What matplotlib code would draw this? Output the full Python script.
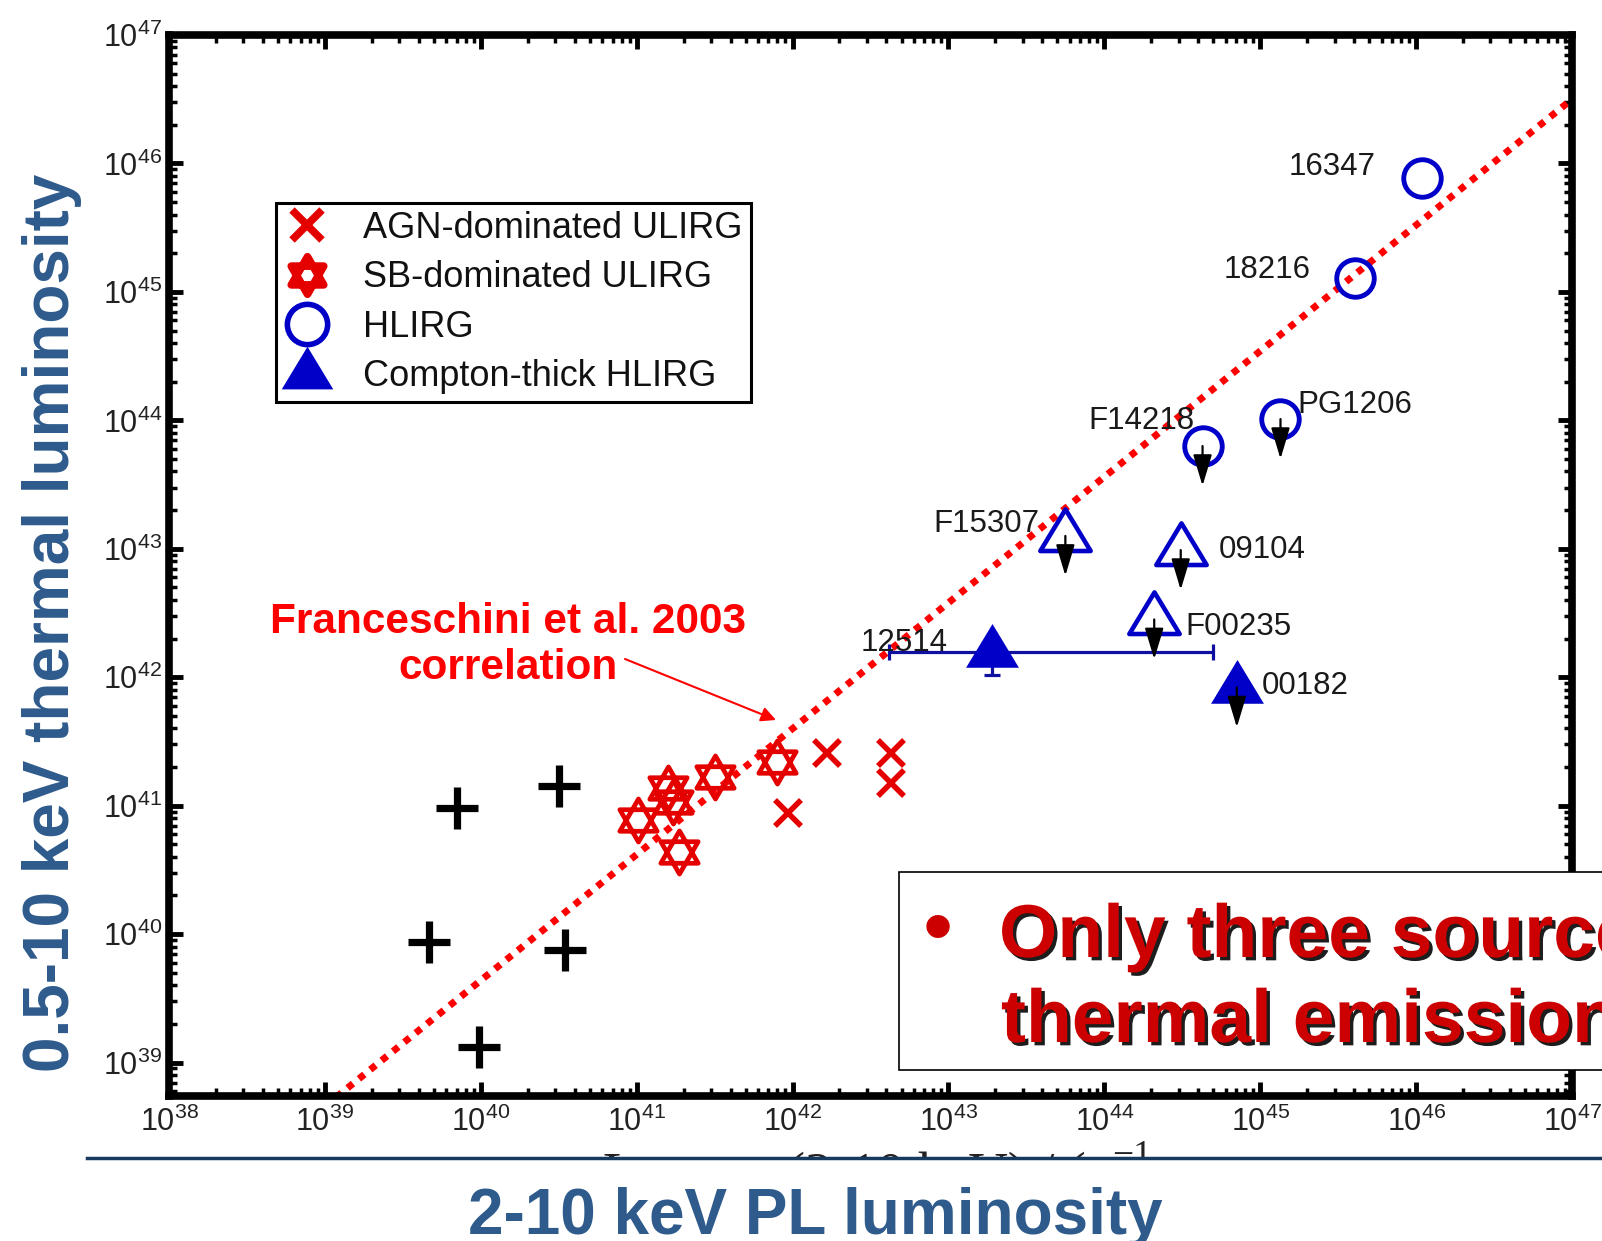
import numpy as np
import matplotlib
matplotlib.use('Agg')
import matplotlib.pyplot as plt
import matplotlib.patheffects as pe
from matplotlib.path import Path
from matplotlib.patches import Rectangle
from matplotlib.lines import Line2D
from matplotlib.ticker import LogLocator, NullFormatter

plt.rcParams['font.family'] = ['Liberation Sans', 'DejaVu Sans']
plt.rcParams['mathtext.fontset'] = 'custom'
plt.rcParams['mathtext.rm'] = 'Liberation Sans'

# log10 luminosities: x = 2-10 keV PL, y = 0.5-10 keV thermal
plus_lx = [39.85, 40.50, 39.67, 40.54, 39.99]
plus_lt = [40.98, 41.15, 39.94, 39.88, 39.12]

agn_lx = [42.22, 42.63, 42.63, 41.97]
agn_lt = [41.41, 41.41, 41.18, 40.94]

sb_lx = [41.90, 41.50, 41.20, 41.23, 41.01, 41.27]
sb_lt = [41.34, 41.22, 41.14, 41.03, 40.89, 40.64]

hlirg_names = ['16347', '18216', 'F14218', 'PG1206']
hlirg_lx = [46.04, 45.61, 44.63, 45.13]
hlirg_lt = [45.89, 45.11, 43.80, 44.01]
hlirg_ul = [False, False, True, True]

open_names = ['F15307', '09104', 'F00235']
open_lx = [43.75, 44.49, 44.32]
open_lt = [43.10, 42.99, 42.45]

ct_names = ['12514', '00182']
ct_lx = [43.28, 44.85]
ct_lt = [42.20, 41.92]
ct_ul = [False, True]
ct_xlo, ct_xhi, ct_ylo = 42.62, 44.70, 42.02   # error range of 12514

# Franceschini et al. 2003 relation, log Lth = a*log Lx + b
corr_a, corr_b = 0.98, 0.44
ul_dex = 0.31

# label offsets in pixels from each point
label_pos = {
    '16347': (-47, 11, 'right'), '18216': (-45, 8, 'right'),
    'F14218': (-8, 25, 'right'), 'PG1206': (17, 14, 'left'),
    'F15307': (-26, 12, 'right'), '09104': (38, 0, 'left'),
    'F00235': (31, -8, 'left'), '12514': (-131, 9, 'left'),
    '00182': (25, 2, 'left'),
}

RED = '#E50000'
BLUE = '#0000C8'
TITLE = '#2E5B8C'

W, H = 1602, 1241
def fx(x):
    return x / W
def fy(y):
    return 1 - y / H

# star of David marker and a triangle whose centre sits low
star = Path([(0, 1), (-0.866, -0.5), (0.866, -0.5), (0, 1),
             (0, -1), (0.866, 0.5), (-0.866, 0.5), (0, -1)],
            [Path.MOVETO, Path.LINETO, Path.LINETO, Path.CLOSEPOLY] * 2)
tri = Path([(0, 28), (-26, -15), (26, -15), (0, 28)],
           [Path.MOVETO, Path.LINETO, Path.LINETO, Path.CLOSEPOLY])

fig = plt.figure(figsize=(W / 100, H / 100), dpi=100)
ax = fig.add_axes([fx(169), fy(1096), fx(1572) - fx(169), fy(35) - fy(1096)])
ax.set_xscale('log')
ax.set_yscale('log')
ax.set_xlim(1e38, 1e47)
ax.set_ylim(10**38.74, 1e47)

# correlation line
cx = np.array([39.0, 47.0])
ax.plot(10**cx, 10**(corr_a * cx + corr_b), color='#FF0000', lw=5,
        ls=(0, (1, 1.1)), zorder=2)

ax.plot(10**np.array(plus_lx), 10**np.array(plus_lt), ls='none', marker='+',
        ms=30, mew=5.2, color='k', zorder=3)
ax.plot(10**np.array(agn_lx), 10**np.array(agn_lt), ls='none', marker='x',
        ms=19, mew=4, color=RED, zorder=3)
ax.plot(10**np.array(sb_lx), 10**np.array(sb_lt), ls='none', marker=star,
        ms=31, mew=3.4, mfc='none', mec=RED, zorder=3)
ax.plot(10**np.array(hlirg_lx), 10**np.array(hlirg_lt), ls='none', marker='o',
        ms=27, mew=3.5, mfc='none', mec=BLUE, zorder=3)
ax.plot(10**np.array(open_lx), 10**np.array(open_lt), ls='none', marker=tri,
        ms=39, mew=3.3, mfc='none', mec=BLUE, zorder=3)

x0, y0 = 10**ct_lx[0], 10**ct_lt[0]
ax.errorbar([x0], [y0], xerr=[[x0 - 10**ct_xlo], [10**ct_xhi - x0]],
            yerr=[[y0 - 10**ct_ylo], [0]], fmt='none', ecolor='#1010A0',
            elinewidth=2.3, capsize=6, capthick=2.3, zorder=3)
ax.plot(10**np.array(ct_lx), 10**np.array(ct_lt), ls='none', marker=tri,
        ms=41, mew=0, color=BLUE, zorder=4)

# upper limits
ul_x = [x for x, u in zip(hlirg_lx, hlirg_ul) if u] + open_lx + \
       [x for x, u in zip(ct_lx, ct_ul) if u]
ul_y = [y for y, u in zip(hlirg_lt, hlirg_ul) if u] + open_lt + \
       [y for y, u in zip(ct_lt, ct_ul) if u]
for x, y in zip(ul_x, ul_y):
    ax.annotate('', xy=(10**x, 10**(y - ul_dex)), xytext=(10**x, 10**y),
                arrowprops=dict(arrowstyle='-|>,head_length=1.2,head_width=0.36',
                                color='k', lw=1.6, shrinkA=0, shrinkB=0,
                                mutation_scale=16), zorder=6)

for names, xs, ys in [(hlirg_names, hlirg_lx, hlirg_lt),
                      (open_names, open_lx, open_lt),
                      (ct_names, ct_lx, ct_lt)]:
    for n, x, y in zip(names, xs, ys):
        dx, dy, ha = label_pos[n]
        ax.annotate(n, (10**x, 10**y), xytext=(dx, dy), textcoords='offset pixels',
                    ha=ha, va='center', fontsize=22.5, color='#1a1a1a', zorder=5)

# axes styling
for s in ax.spines.values():
    s.set_linewidth(5.5)
for axis in (ax.xaxis, ax.yaxis):
    axis.set_major_locator(LogLocator(base=10, numticks=30))
    axis.set_minor_locator(LogLocator(base=10, subs=np.arange(2, 10), numticks=300))
    axis.set_minor_formatter(NullFormatter())
ax.tick_params(which='major', direction='in', length=10, width=3.5, top=True,
               right=True, labelsize=22, labelcolor='#222222')
ax.tick_params(axis='x', which='major', pad=8)
ax.tick_params(axis='y', which='major', pad=5)
ax.tick_params(which='minor', direction='in', length=5.5, width=2.5, top=True,
               right=True)

handles = [
    Line2D([], [], ls='none', marker='x', ms=21, mew=5.5, color=RED),
    Line2D([], [], ls='none', marker=star, ms=27, mew=5.5, mfc='none', mec=RED),
    Line2D([], [], ls='none', marker='o', ms=29, mew=4, mfc='none', mec=BLUE),
    Line2D([], [], ls='none', marker=tri, ms=40, mew=0, color=BLUE),
]
labels = ['AGN-dominated ULIRG', 'SB-dominated ULIRG', 'HLIRG', 'Compton-thick HLIRG']
leg = ax.legend(handles, labels, loc='upper left',
                bbox_to_anchor=((276 - 169) / 1403, (1096 - 203) / 1061),
                borderaxespad=0, fancybox=False, edgecolor='k', framealpha=1,
                fontsize=26, labelspacing=0.4, handlelength=1.3,
                handletextpad=0.9, borderpad=0.22)
leg.get_frame().set_linewidth(2.2)
for t in leg.get_texts():
    t.set_color('#111111')

# correlation annotation
fig.text(fx(508), fy(645), 'Franceschini et al. 2003\ncorrelation', ha='center',
         va='center', color='#FF0000', fontsize=30.5, fontweight='bold',
         linespacing=1.2)
ax.annotate('', xy=(776, H - 720), xycoords='figure pixels',
            xytext=(625, H - 659), textcoords='figure pixels',
            arrowprops=dict(arrowstyle='-|>', color='#FF0000', lw=1.5,
                            mutation_scale=22, shrinkA=0, shrinkB=0))

# remains of the original x-axis title, cut by the rule below
serif = dict(family='Liberation Serif', color='#222222', zorder=2)
fig.text(fx(603), fy(1190), 'L', fontsize=39, va='baseline', **serif)
fig.text(fx(787), fy(1190), '(2-10 keV) / (erg s', fontsize=39, va='baseline', **serif)
fig.text(fx(1112), fy(1166), '\u22121', fontsize=27, va='baseline', **serif)
fig.add_artist(Rectangle((0, 0), 1, fy(1158), transform=fig.transFigure,
                         facecolor='white', edgecolor='none', zorder=2.5))
fig.add_artist(Line2D([fx(87), 1.0], [fy(1157.5)] * 2, transform=fig.transFigure,
                      color='#173A5E', lw=2.5, zorder=6))

fig.text(fx(69.5), fy(623), '0.5-10 keV thermal luminosity', rotation=90,
         rotation_mode='anchor', ha='center', va='baseline', fontsize=46,
         fontweight='bold', color=TITLE)
fig.text(fx(815), fy(1234), '2-10 keV PL luminosity', ha='center', va='baseline',
         fontsize=46, fontweight='bold', color=TITLE, zorder=6)

# bullet box
fig.add_artist(Rectangle((fx(899), fy(1070)), 1.2 - fx(899), fy(871.5) - fy(1070),
                         transform=fig.transFigure, facecolor='white',
                         edgecolor='k', lw=1.2, zorder=3))
shadow = [pe.withSimplePatchShadow(offset=(2.4, -2.4), shadow_rgbFace='#111111',
                                   alpha=0.95)]
fig.text(fx(938), fy(933), '\u2022', color='#CC0000', fontsize=62, ha='center',
         va='center', zorder=4)
fig.text(fx(999), fy(957), 'Only three sources show', color='#CC0000', fontsize=54,
         fontweight='bold', va='baseline', zorder=4, path_effects=shadow)
fig.text(fx(1001), fy(1042), 'thermal emission', color='#CC0000', fontsize=54,
         fontweight='bold', va='baseline', zorder=4, path_effects=shadow)

fig.savefig('out.png', dpi=100)
